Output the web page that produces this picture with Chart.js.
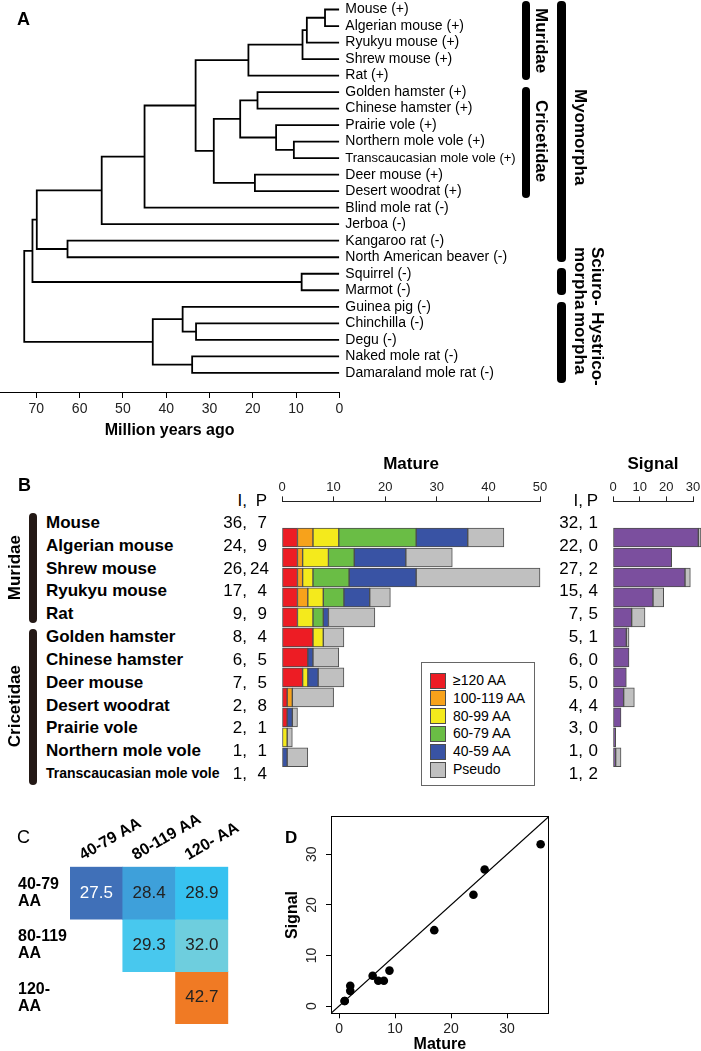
<!DOCTYPE html>
<html>
<head>
<meta charset="utf-8">
<script src="https://cdn.jsdelivr.net/npm/chart.js@4.4.0/dist/chart.umd.min.js"></script>
<style>
  body { margin: 0; background: #fff; font-family: 'Liberation Sans', Arial, sans-serif; color: #000; }
  #page { position: relative; width: 701px; height: 1051px; overflow: hidden; }
  canvas { position: absolute; }
  .t { position: absolute; white-space: pre; }
  .letter { position: absolute; font-weight: bold; font-size: 18px; line-height: 1; }
  .clade { position: absolute; background: #000; border-radius: 4px; }
  .vt { position: absolute; writing-mode: vertical-rl; font-weight: bold; font-size: 17px; line-height: 17px; white-space: pre; }
  #legend { position: absolute; left: 421px; top: 662px; width: 112px; height: 122px; border: 1px solid #666; background: #fff; z-index: 2; }
  .sw { position: absolute; width: 14px; height: 14px; border: 1px solid #4d4d4d; }
</style>
</head>
<body>
<div id="page">
  <canvas id="treeChart" width="530" height="442" style="left:0;top:0"></canvas>
  <canvas id="matureChart" width="278" height="332" style="left:272px;top:454px"></canvas>
  <canvas id="signalChart" width="98" height="332" style="left:603px;top:454px"></canvas>
  <canvas id="heatChart" width="250" height="232" style="left:0;top:800px"></canvas>
  <canvas id="scatterChart" width="291" height="256" style="left:270px;top:800px"></canvas>

  <div class="letter" style="left:17px;top:10px">A</div>
  <div class="letter" style="left:18px;top:476px">B</div>
  <div class="letter" style="left:17px;top:828px;font-weight:normal">C</div>
  <div class="letter" style="left:285px;top:829px;font-size:17px">D</div>

  <div class="clade" style="left:522px;top:1px;width:8px;height:79px"></div>
  <div class="clade" style="left:522px;top:87px;width:8px;height:111px"></div>
  <div class="clade" style="left:557px;top:1px;width:9px;height:261px"></div>
  <div class="clade" style="left:557px;top:268px;width:9px;height:27px"></div>
  <div class="clade" style="left:557px;top:302px;width:9px;height:81px"></div>
  <div class="vt" style="left:533px;top:8px">Muridae</div>
  <div class="vt" style="left:533px;top:100px">Cricetidae</div>
  <div class="vt" style="left:572px;top:89px">Myomorpha</div>
  <div class="vt" style="left:572px;top:247px">Sciuro-
morpha</div>
  <div class="vt" style="left:572px;top:312px">Hystrico-
morpha</div>

  <div class="clade" style="left:29px;top:513px;width:8px;height:110px;background:#231815"></div>
  <div class="clade" style="left:29px;top:629px;width:8px;height:156px;background:#231815"></div>
  <div class="vt" style="left:6px;top:535px;transform:rotate(180deg)">Muridae</div>
  <div class="vt" style="left:6px;top:665px;transform:rotate(180deg)">Cricetidae</div>

  <div id="legend"></div>
</div>
<script>
// ---- panel A: tree ----
const TIPS = ["Mouse (+)", "Algerian mouse (+)", "Ryukyu mouse (+)", "Shrew mouse (+)", "Rat (+)",
  "Golden hamster (+)", "Chinese hamster (+)", "Prairie vole (+)", "Northern mole vole (+)",
  "Transcaucasian mole vole (+)", "Deer mouse (+)", "Desert woodrat (+)", "Blind mole rat (-)",
  "Jerboa (-)", "Kangaroo rat (-)", "North American beaver (-)", "Squirrel (-)", "Marmot (-)",
  "Guinea pig (-)", "Chinchilla (-)", "Degu (-)", "Naked mole rat (-)", "Damaraland mole rat (-)"];
// [node, child, child, age in Mya]; numbers are tips
const NODES = [
  ["n1", 0, 1, 3.3], ["n2", "n1", 2, 7.5], ["n3", "n2", 3, 8.5], ["n4", "n3", 4, 21.0],
  ["n5", 5, 6, 18.9], ["n6", 8, 9, 10.5], ["n7", 7, "n6", 14.6], ["n8", "n5", "n7", 22.9],
  ["n9", 10, 11, 19.5], ["n10", "n8", "n9", 29.0], ["n11", "n4", "n10", 33.2],
  ["n12", "n11", 12, 45.0], ["n13", "n12", 13, 54.9], ["n14", 14, 15, 62.8],
  ["n15", "n13", "n14", 69.9], ["n16", 16, 17, 8.7], ["n17", "n15", "n16", 70.9],
  ["n18", 19, 20, 33.1], ["n19", 18, "n18", 36.2], ["n20", 21, 22, 34.0],
  ["n21", "n19", "n20", 43.1], ["n22", "n17", "n21", 72.8]
];
const TREE_TICKS_MAX = 78.4;

// ---- panel B ----
const SPECIES = ["Mouse", "Algerian mouse", "Shrew mouse", "Ryukyu mouse", "Rat", "Golden hamster",
  "Chinese hamster", "Deer mouse", "Desert woodrat", "Prairie vole", "Northern mole vole",
  "Transcaucasian mole vole"];
const AA_120 = [3, 3, 3, 3, 3, 6, 5, 4, 1, 1, 0, 0];
const AA_100 = [3, 1, 1, 2, 0, 0, 0, 0, 1, 0, 0, 0];
const AA_80 = [5, 5, 2, 3, 3, 2, 0, 1, 0, 0, 1, 0];
const AA_60 = [15, 5, 7, 4, 2, 0, 0, 0, 0, 0, 0, 0];
const AA_40 = [10, 10, 13, 5, 1, 0, 1, 2, 0, 1, 0, 1];
const PSEUDO = [7, 9, 24, 4, 9, 4, 5, 5, 8, 1, 1, 4];
const SIG_INTACT = [32, 22, 27, 15, 7, 5, 6, 5, 4, 3, 1, 1];
const SIG_PSEUDO = [1, 0, 2, 4, 5, 1, 0, 0, 4, 0, 0, 2];
const MATURE_LABELS = ["\u2265120 AA", "100-119 AA", "80-99 AA", "60-79 AA", "40-59 AA", "Pseudo"];
const MATURE_COLORS = ["#ed1c24", "#f7a21b", "#f4ea1c", "#6abd45", "#3953a4", "#c0c0c0"];
const MATURE_VALUES = [AA_120, AA_100, AA_80, AA_60, AA_40, PSEUDO];
const MATURE_INTACT = SPECIES.map((_, i) => AA_120[i] + AA_100[i] + AA_80[i] + AA_60[i] + AA_40[i]);

// ---- panel C ----
const HEAT_COLS = ["40-79 AA", "80-119 AA", "120- AA"];
const HEAT_ROWS = [["40-79", "AA"], ["80-119", "AA"], ["120-", "AA"]];
const HEAT_VALUES = [[27.5, 28.4, 28.9], [null, 29.3, 32.0], [null, null, 42.7]];
const HEAT_COLORS = [["#4070b8", "#3ea0da", "#37c2f0"], [null, "#48c8ee", "#6ecede"], [null, null, "#f07a24"]];

// ---- panel D ----
const D_LIM = [-1.44, 37.44];

Chart.defaults.font.family = "'Liberation Sans', Arial, sans-serif";
Chart.defaults.color = "#000";
Chart.defaults.animation = false;
Chart.defaults.responsive = false;
Chart.defaults.plugins.legend.display = false;
Chart.defaults.plugins.tooltip.enabled = false;

function fixBox(size) {
  return s => {
    if (s.isHorizontal()) s.height = size; else s.width = size;
    s.paddingLeft = s.paddingRight = s.paddingTop = s.paddingBottom = 0;
  };
}

// tree paths
const nodeY = {}, nodeAge = {};
const yOf = c => typeof c === "number" ? c : nodeY[c];
const ageOf = c => typeof c === "number" ? 0 : nodeAge[c];
const treePts = [];
NODES.forEach(([id, a, b, age]) => {
  nodeAge[id] = age;
  nodeY[id] = (yOf(a) + yOf(b)) / 2;
  treePts.push({ x: ageOf(a), y: yOf(a) }, { x: age, y: yOf(a) }, { x: age, y: yOf(b) },
    { x: ageOf(b), y: yOf(b) }, { x: NaN, y: NaN });
});

new Chart(document.getElementById("treeChart"), {
  type: "line",
  data: { datasets: [{ data: treePts, borderColor: "#000", borderWidth: 1.8, pointRadius: 0,
    spanGaps: false, tension: 0, borderJoinStyle: "miter" }] },
  options: {
    layout: { padding: 0 },
    scales: {
      x: { type: "linear", reverse: true, min: 0, max: TREE_TICKS_MAX,
        ticks: { stepSize: 10, includeBounds: false, font: { size: 14 }, color: "#222", padding: 3 },
        grid: { drawOnChartArea: false, tickLength: 6, color: "#000" },
        border: { color: "#000" },
        title: { display: true, text: "Million years ago", font: { size: 16, weight: "bold" }, padding: { top: 0, bottom: 2 } },
        afterFit: fixBox(50) },
      y: { type: "linear", position: "right", reverse: true, min: -0.576, max: 23.16,
        afterBuildTicks: s => { s.ticks = TIPS.map((_, i) => ({ value: i })); },
        ticks: { autoSkip: false, padding: 6, callback: v => TIPS[v],
          font: ctx => ({ size: ctx.index === 9 ? 13 : 14 }) },
        grid: { display: false, drawTicks: false },
        border: { display: false },
        afterFit: fixBox(190.7) }
    }
  }
});

// panel B bars
function topAxis(max) {
  return {
    type: "linear", position: "top", stacked: true, min: 0, max: max,
    ticks: { stepSize: 10, font: { size: 13 }, color: "#222", padding: 1 },
    grid: { drawOnChartArea: false, tickLength: 5, color: "#222" },
    border: { color: "#222" },
    afterFit: fixBox(21)
  };
}
function barOptions(max, title, pad) {
  return {
    indexAxis: "y",
    layout: { padding: pad },
    plugins: { title: { display: true, text: title, color: "#000", font: { size: 17, weight: "bold" }, padding: { top: 0, bottom: 6 } } },
    scales: { x: topAxis(max), y: { type: "linear", stacked: true, reverse: true, min: -0.92, max: 11.5, display: false } }
  };
}
function barSet(values, color, label) {
  return {
    label: label,
    data: values.map((v, i) => ({ x: v, y: i })).filter(p => p.x > 0),
    backgroundColor: color, borderColor: "#4d4d4d", borderWidth: 1, borderSkipped: false,
    barThickness: 19, clip: false
  };
}

new Chart(document.getElementById("matureChart"), {
  type: "bar",
  data: { datasets: MATURE_VALUES.map((vals, k) => barSet(vals, MATURE_COLORS[k], MATURE_LABELS[k])) },
  options: barOptions(50, "Mature", { left: 10, right: 10, top: 0, bottom: 1 })
});

new Chart(document.getElementById("signalChart"), {
  type: "bar",
  data: { datasets: [barSet(SIG_INTACT, "#7b4f9e", "Signal"), barSet(SIG_PSEUDO, "#c0c0c0", "Pseudo")] },
  options: barOptions(30, "Signal", { left: 10, right: 8, top: 0, bottom: 1 })
});

// panel B text rows
const page = document.getElementById("page");
function addText(text, css) {
  const d = document.createElement("div");
  d.className = "t";
  d.textContent = text;
  d.style.cssText += css;
  page.appendChild(d);
  return d;
}
const ROW_Y0 = 522.4, ROW_H = 22.83;
function rowTexts(y, name, i1, p1, i2, p2, nameSize) {
  const base = `top:${y - 11.5}px;height:23px;line-height:23px;font-size:17px;text-align:right;`;
  if (name) addText(name, `left:46px;top:${y - 11.5}px;height:23px;line-height:23px;font-size:${nameSize}px;font-weight:bold;`);
  addText(i1, base + "left:190px;width:57px;");
  addText(p1, base + "left:250px;width:17px;");
  addText(i2, base + "left:528px;width:55px;");
  addText(p2, base + "left:586px;width:12px;");
}
rowTexts(500, null, "I,", "P", "I,", "P");
SPECIES.forEach((name, i) => {
  rowTexts(ROW_Y0 + i * ROW_H, name, MATURE_INTACT[i] + ",", String(PSEUDO[i]),
    SIG_INTACT[i] + ",", String(SIG_PSEUDO[i]), i === SPECIES.length - 1 ? 14 : 17);
});

// legend
const legend = document.getElementById("legend");
MATURE_LABELS.forEach((lab, k) => {
  const cy = 17 + k * 17.8;
  const sw = document.createElement("div");
  sw.className = "sw";
  sw.style.cssText = `left:8px;top:${cy - 7.5}px;background:${MATURE_COLORS[k]}`;
  legend.appendChild(sw);
  const tx = document.createElement("div");
  tx.className = "t";
  tx.textContent = lab;
  tx.style.cssText = `left:31px;top:${cy - 9}px;line-height:18px;font-size:14px`;
  legend.appendChild(tx);
});

// panel C heatmap
const cellText = {
  id: "cellText",
  afterDatasetsDraw(chart) {
    const ctx = chart.ctx;
    ctx.save();
    ctx.font = "17px 'Liberation Sans', Arial, sans-serif";
    ctx.textAlign = "center";
    ctx.textBaseline = "middle";
    chart.data.datasets.forEach((ds, r) => {
      chart.getDatasetMeta(r).data.forEach((bar, c) => {
        const v = HEAT_VALUES[r][c];
        if (v == null) return;
        ctx.fillStyle = v < 28 ? "#fff" : "#222";
        ctx.fillText(v.toFixed(1), bar.x, (bar.y + bar.base) / 2);
      });
    });
    ctx.restore();
  }
};

new Chart(document.getElementById("heatChart"), {
  type: "bar",
  data: {
    labels: HEAT_COLS,
    datasets: HEAT_VALUES.map((row, r) => ({
      data: row.map(v => v == null ? null : [r, r + 1]),
      backgroundColor: HEAT_COLORS[r],
      borderWidth: 0, barPercentage: 1, categoryPercentage: 1, grouped: false
    }))
  },
  options: {
    layout: { padding: { left: 18, right: 21.7, top: 0, bottom: 8 } },
    scales: {
      x: { type: "category", position: "top",
        ticks: { autoSkip: false, minRotation: 30, maxRotation: 30, labelOffset: -6, padding: 2, font: { size: 16, weight: "bold" }, color: "#000" },
        grid: { display: false, drawTicks: false }, border: { display: false },
        afterFit: fixBox(66.7) },
      y: { type: "linear", min: 0, max: 3, reverse: true,
        afterBuildTicks: s => { s.ticks = HEAT_ROWS.map((_, i) => ({ value: i + 0.5 })); },
        ticks: { autoSkip: false, crossAlign: "far", callback: v => HEAT_ROWS[Math.floor(v)], font: { size: 16, weight: "bold", lineHeight: 1.08 }, color: "#000" },
        grid: { display: false, drawTicks: false }, border: { display: false },
        afterFit: fixBox(52) }
    }
  },
  plugins: [cellText]
});

// panel D scatter
const frame = pos => ({
  position: pos, display: true,
  ticks: { display: false },
  grid: { display: true, drawOnChartArea: false, drawTicks: false },
  border: { display: true, color: "#000" },
  afterFit: fixBox(0)
});

new Chart(document.getElementById("scatterChart"), {
  type: "scatter",
  data: {
    datasets: [
      { data: MATURE_INTACT.map((m, i) => ({ x: m, y: SIG_INTACT[i] })),
        pointRadius: 4.3, backgroundColor: "#000", borderColor: "#000", borderWidth: 0 },
      { data: [{ x: D_LIM[0], y: D_LIM[0] }, { x: D_LIM[1], y: D_LIM[1] }],
        showLine: true, pointRadius: 0, borderColor: "#000", borderWidth: 1.2 }
    ]
  },
  options: {
    layout: { padding: { left: 0, top: 16.7, right: 12.3, bottom: 0 } },
    scales: {
      x: { type: "linear", position: "bottom", min: D_LIM[0], max: D_LIM[1],
        ticks: { stepSize: 10, includeBounds: false, font: { size: 14 }, color: "#222", padding: 2 },
        grid: { drawOnChartArea: false, tickLength: 5, color: "#000" },
        border: { color: "#000" },
        title: { display: true, text: "Mature", font: { size: 16, weight: "bold" }, padding: { top: 0, bottom: 2 } },
        afterFit: fixBox(42.7) },
      y: { type: "linear", position: "left", min: D_LIM[0], max: D_LIM[1],
        ticks: { stepSize: 10, includeBounds: false, autoSkip: false, minRotation: 90, maxRotation: 90, crossAlign: "center", font: { size: 14 }, color: "#222", padding: 6 },
        grid: { drawOnChartArea: false, tickLength: 5, color: "#000" },
        border: { color: "#000" },
        title: { display: true, text: "Signal", font: { size: 16, weight: "bold" }, padding: { top: 13, bottom: 0 } },
        afterFit: fixBox(61) },
      x2: frame("top"),
      y2: frame("right")
    }
  }
});
</script>
</body>
</html>
